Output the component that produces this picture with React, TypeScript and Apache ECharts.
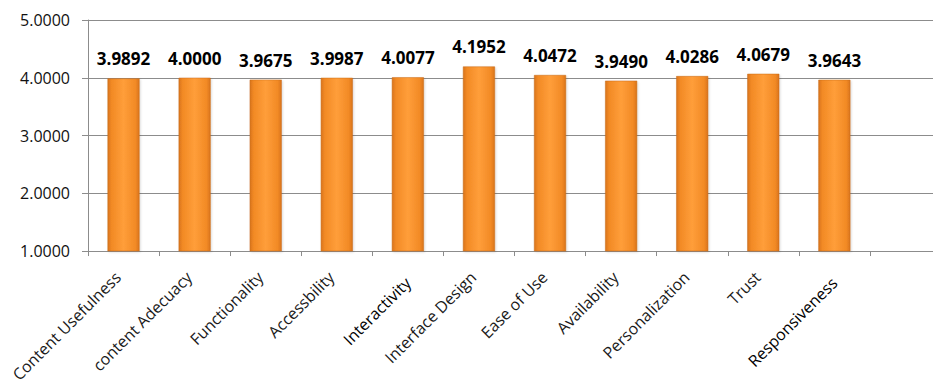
import React, { useEffect, useRef } from "react";
import * as echarts from "echarts";

const categories = [
  "Content Usefulness",
  "content Adecuacy",
  "Functionality",
  "Accessbility",
  "Interactivity",
  "Interface Design",
  "Ease of Use",
  "Availability",
  "Personalization",
  "Trust",
  "Responsiveness",
  "",
];
const values = [3.9892, 4.0, 3.9675, 3.9987, 4.0077, 4.1952, 4.0472, 3.949, 4.0286, 4.0679, 3.9643, null];
const darkerLabels = ["Interactivity", "Responsiveness"];

const FONT = "'Open Sans', Lato, sans-serif";

export default function App() {
  const ref = useRef<HTMLDivElement>(null);
  useEffect(() => {
    if (!ref.current) return;
    const chart = echarts.init(ref.current, undefined, { renderer: "svg" });
    const barColor = new echarts.graphic.LinearGradient(0, 0, 1, 0, [
      { offset: 0, color: "#d9741c" },
      { offset: 0.12, color: "#f28a25" },
      { offset: 0.5, color: "#ff9e3a" },
      { offset: 0.88, color: "#f28a25" },
      { offset: 1, color: "#d9741c" },
    ]);
    chart.setOption({
      animation: false,
      backgroundColor: "#ffffff",
      grid: { left: 88, top: 20, bottom: 133, width: 864, containLabel: false },
      xAxis: {
        type: "category",
        data: categories.map((c) => ({
          value: c,
          textStyle: darkerLabels.includes(c) ? { color: "#000" } : undefined,
        })),
        axisLine: { lineStyle: { color: "#8c8c8c", width: 1 } },
        axisTick: { show: true, length: 5, alignWithLabel: false, lineStyle: { color: "#8c8c8c" } },
        axisLabel: {
          interval: 0,
          rotate: 45,
          margin: 29,
          verticalAlign: "bottom",
          fontFamily: FONT,
          fontSize: 16,
          color: "#1a1a1a",
        },
      },
      yAxis: {
        type: "value",
        min: 1,
        max: 5,
        interval: 1,
        axisLine: { show: true, lineStyle: { color: "#8c8c8c" } },
        axisTick: { show: true, length: 6, lineStyle: { color: "#8c8c8c" } },
        splitLine: { lineStyle: { color: "#8c8c8c" } },
        axisLabel: {
          margin: 18,
          fontFamily: FONT,
          fontSize: 16,
          color: "#111",
          formatter: (v: number) => v.toFixed(4),
        },
      },
      series: [
        {
          type: "bar",
          data: values,
          barWidth: 32,
          itemStyle: {
            color: barColor,
            borderColor: "#c96a18",
            borderWidth: 0.5,
            shadowColor: "rgba(0,0,0,0.15)",
            shadowBlur: 2,
            shadowOffsetX: 1,
            shadowOffsetY: 1,
          },
          label: {
            show: true,
            position: "top",
            distance: 11,
            fontFamily: FONT,
            fontWeight: "bold",
            fontSize: 17,
            color: "#000",
            formatter: (p: any) => (p.value == null ? "" : Number(p.value).toFixed(4)),
          },
        },
      ],
    });
    return () => chart.dispose();
  }, []);
  return <div ref={ref} style={{ width: 941, height: 385, marginLeft: -8, marginTop: -8 }} />;
}
